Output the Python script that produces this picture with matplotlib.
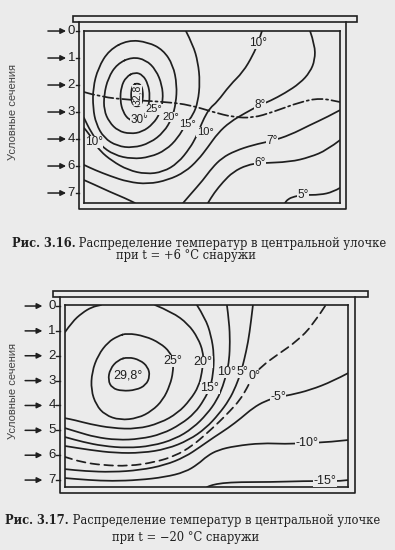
import matplotlib.pyplot as plt
import matplotlib.transforms as mtransforms
from matplotlib.path import Path
from matplotlib.patches import PathPatch, Rectangle

BG = '#ebebeb'
INK = '#1f1f1f'

# x: % of alley width (left wall = 0, right wall = 100)
# y: position of the conventional section (arrow index from the top)

# ---------- Рис. 3.16, outside +6 °C ----------
top_pos = [0, 1, 2, 3, 4, 5, 6]
top_sec_labels = ['0', '1', '2', '3', '4', '6', '7']
top_ylim = (6.37, 0)

top_328 = [(20.7, 1.93), (22.3, 2.00), (23.0, 2.22), (23.0, 2.52), (22.3, 2.74), (20.7, 2.81),
           (19.1, 2.74), (18.4, 2.52), (18.4, 2.22), (19.1, 2.00), (20.7, 1.93)]
top_30 = [(19.9, 1.52), (23.0, 1.63), (25.0, 1.96), (25.8, 2.41), (25.0, 2.85), (23.4, 3.19), (20.7, 3.37),
          (17.6, 3.30), (15.2, 3.00), (14.1, 2.56), (14.5, 2.07), (16.4, 1.70), (19.9, 1.52)]
top_25 = [(18.75, 0.96), (24.2, 1.07), (28.1, 1.44), (30.5, 2.00), (30.9, 2.56), (29.7, 3.04), (27.0, 3.44),
          (22.7, 3.74), (18.0, 3.81), (13.3, 3.70), (9.8, 3.37), (7.8, 2.93), (7.8, 2.37), (9.4, 1.74),
          (12.9, 1.22), (18.75, 0.96)]
top_20 = [(17.2, 0.33), (25.0, 0.41), (30.9, 0.70), (34.8, 1.26), (36.3, 2.00), (35.9, 2.67), (34.4, 3.22),
          (31.25, 3.74), (25.8, 4.15), (19.1, 4.33), (12.9, 4.26), (7.8, 3.96), (4.7, 3.44), (3.5, 2.85),
          (3.5, 2.11), (5.5, 1.37), (9.8, 0.70), (17.2, 0.33)]
top_15 = [(39.8, 0), (42.6, 0.52), (44.5, 1.15), (45.3, 1.89), (44.5, 2.63), (42.6, 3.11), (39.8, 3.44),
          (36.7, 3.96), (32.0, 4.41), (25.8, 4.67), (18.75, 4.74), (11.7, 4.59), (6.25, 4.22), (2.7, 3.74),
          (0, 3.22)]
top_10 = [(0, 3.59), (2.0, 3.81), (3.9, 4.11), (6.25, 4.44), (10.9, 4.81), (17.2, 5.15), (24.2, 5.30),
          (30.9, 5.22), (36.7, 4.89), (41.4, 4.33), (43.75, 3.93), (44.9, 3.67), (46.9, 3.22), (49.2, 2.85),
          (52.0, 2.63), (57.0, 2.00), (62.1, 1.52), (66.0, 0.89), (68.0, 0.44), (69.5, 0)]
top_8 = [(88.3, 0), (90.2, 0.52), (90.2, 1.07), (88.3, 1.52), (84.4, 1.93), (78.5, 2.30), (72.7, 2.59),
         (68.75, 2.74), (62.9, 3.04), (57.0, 3.37), (52.3, 3.78), (48.4, 4.30), (44.5, 4.78), (39.5, 5.22),
         (32.8, 5.52), (25.0, 5.67), (17.2, 5.59), (10.2, 5.37), (4.3, 5.15), (0, 4.96)]
top_7_left = [(0, 5.52), (4.3, 5.70), (10.2, 5.96), (16.0, 6.19), (19.9, 6.37)]
top_7_right = [(100, 2.93), (94.9, 3.19), (88.3, 3.48), (80.5, 3.85), (73.4, 4.07), (66.0, 4.22), (59.0, 4.44),
               (53.9, 4.70), (50.0, 5.07), (46.5, 5.52), (41.4, 6.07), (38.7, 6.37)]
top_6 = [(100, 4.04), (94.9, 4.41), (88.3, 4.67), (80.5, 4.85), (68.75, 4.89), (63.7, 4.96), (58.2, 5.22),
         (54.3, 5.59), (50.8, 6.00), (48.4, 6.37)]
top_5 = [(100, 5.81), (97.3, 5.96), (92.2, 6.07), (85.5, 6.07), (81.25, 6.15), (79.3, 6.26), (78.5, 6.37)]
top_dashdot = [(0, 2.26), (6.25, 2.44), (19.1, 2.56), (32.4, 2.63), (41.4, 2.74), (50.4, 3.00), (58.2, 3.19),
               (66.0, 3.22), (73.8, 3.00), (84.4, 2.63), (92.2, 2.48), (100, 2.63)]
top_marks = [('30°', 21.5, 3.30), ('10°', 3.9, 4.11), ('10°', 68.0, 0.44), ('8°', 68.75, 2.74),
             ('7°', 73.4, 4.07), ('6°', 68.75, 4.89), ('5°', 85.5, 6.07)]
# the four crowded labels right of the warm core
top_marks_row = [('25°', 27.3, 2.90), ('20°', 34.0, 3.18), ('15°', 40.6, 3.46), ('10°', 47.3, 3.74)]

# ---------- Рис. 3.17, outside -20 °C ----------
bot_pos = [0, 1, 2, 3, 4, 5, 6, 7]
bot_sec_labels = ['0', '1', '2', '3', '4', '5', '6', '7']
bot_ylim = (7.28, -0.04)

bot_298 = [(22.3, 2.05), (26.5, 2.17), (29.3, 2.45), (30.0, 2.82), (28.6, 3.18), (25.1, 3.38), (20.1, 3.42),
           (16.6, 3.30), (15.2, 2.98), (15.9, 2.53), (18.7, 2.17), (22.3, 2.05)]
bot_25 = [(21.9, 1.09), (28.3, 1.21), (33.6, 1.49), (37.1, 1.85), (38.2, 2.21), (38.2, 2.65), (37.1, 3.18),
          (34.6, 3.78), (30.7, 4.22), (25.8, 4.51), (19.4, 4.59), (14.1, 4.38), (11.0, 3.98), (9.2, 3.38),
          (9.5, 2.65), (11.7, 1.97), (15.2, 1.45), (18.7, 1.21), (21.9, 1.09)]
bot_20a = [(0, 1.05), (2.5, 0.64), (6.0, 0.28), (9.5, 0.04), (12.7, -0.04)]
bot_20b = [(31.8, -0.04), (37.8, 0.24), (43.5, 0.72), (47.0, 1.29), (48.8, 1.85), (48.8, 2.25), (48.4, 2.65),
           (47.3, 3.22), (44.2, 3.78), (39.9, 4.30), (33.6, 4.71), (25.4, 4.95), (16.6, 4.91), (8.8, 4.75),
           (3.5, 4.59), (0, 4.51)]
bot_15 = [(46.6, -0.04), (49.5, 0.48), (51.6, 1.17), (52.7, 1.97), (52.3, 2.78), (51.2, 3.30), (49.1, 3.78),
          (45.9, 4.30), (41.0, 4.75), (34.3, 5.15), (26.5, 5.35), (18.4, 5.39), (10.6, 5.27), (4.6, 5.07),
          (0, 4.91)]
bot_10 = [(57.2, -0.04), (58.0, 0.64), (58.3, 1.45), (58.0, 2.17), (57.2, 2.65), (55.8, 3.22), (53.7, 3.78),
          (50.2, 4.34), (45.2, 4.91), (38.9, 5.35), (30.7, 5.63), (21.9, 5.71), (13.4, 5.63), (6.4, 5.47),
          (0, 5.27)]
bot_5 = [(66.4, -0.04), (65.7, 0.64), (64.7, 1.45), (63.3, 2.17), (62.2, 2.65), (60.4, 3.22), (58.0, 3.78),
         (54.4, 4.34), (49.8, 4.91), (43.8, 5.39), (36.0, 5.75), (27.2, 5.91), (17.7, 5.91), (8.8, 5.79),
         (0, 5.63)]
bot_0 = [(91.9, 0.0), (87.6, 0.76), (82.0, 1.41), (74.9, 1.97), (69.6, 2.41), (66.4, 2.82), (64.3, 3.30),
         (61.8, 3.78), (58.3, 4.22), (54.4, 4.67), (49.8, 5.15), (44.9, 5.63), (38.9, 6.03), (31.8, 6.28),
         (22.6, 6.44), (13.1, 6.40), (6.0, 6.28), (0, 6.07)]
bot_m5 = [(100, 2.70), (94.7, 3.02), (86.6, 3.38), (79.5, 3.58), (75.3, 3.66), (70.7, 3.82), (66.4, 4.10),
          (62.2, 4.51), (57.6, 4.91), (52.7, 5.27), (47.7, 5.67), (42.4, 6.07), (35.3, 6.40), (26.5, 6.60),
          (16.6, 6.68), (7.1, 6.64), (0, 6.56)]
bot_m10 = [(100, 5.39), (93.6, 5.47), (85.5, 5.51), (77.7, 5.55), (69.6, 5.51), (60.1, 5.63), (54.1, 5.79),
           (50.2, 6.03), (47.0, 6.36), (42.4, 6.68), (35.3, 6.88), (26.1, 7.00), (16.6, 7.04), (8.5, 7.00),
           (0, 6.92)]
bot_m15 = [(100, 7.00), (97.2, 7.04), (91.9, 7.04), (84.8, 7.04), (72.4, 7.08), (61.8, 7.08), (55.5, 7.12),
           (51.9, 7.20), (50.2, 7.28)]
bot_marks = [('29,8°', 22.3, 2.78), ('25°', 38.2, 2.21), ('20°', 48.8, 2.25), ('15°', 51.2, 3.30),
             ('10°', 57.0, 2.65), ('5°', 62.8, 2.65), ('0°', 66.8, 2.82), ('-5°', 75.3, 3.66),
             ('-10°', 85.5, 5.51), ('-15°', 91.9, 7.04)]


def smooth_path(pts, closed=False):
    # quadratic B-spline through the read-off points
    if closed:
        pts = pts[:-1]
        n = len(pts)
        mids = [((pts[i][0] + pts[(i + 1) % n][0]) / 2, (pts[i][1] + pts[(i + 1) % n][1]) / 2)
                for i in range(n)]
        verts = [mids[-1]]
        codes = [Path.MOVETO]
        for i in range(n):
            verts += [pts[i], mids[i]]
            codes += [Path.CURVE3, Path.CURVE3]
        return Path(verts, codes)
    verts = [pts[0]]
    codes = [Path.MOVETO]
    for i in range(1, len(pts) - 1):
        mid = ((pts[i][0] + pts[i + 1][0]) / 2, (pts[i][1] + pts[i + 1][1]) / 2)
        verts += [pts[i], mid]
        codes += [Path.CURVE3, Path.CURVE3]
    verts.append(pts[-1])
    codes.append(Path.LINETO)
    return Path(verts, codes)


def iso(ax, pts, closed=False, ls='-'):
    ax.add_patch(PathPatch(smooth_path(pts, closed), fill=False, ec=INK, lw=1.25,
                           linestyle=ls, capstyle='round', joinstyle='round'))


def mark(ax, txt, x, y, size=9, rot=0):
    ax.text(x, y, txt, ha='center', va='center', fontsize=size, rotation=rot,
            family='Liberation Sans', color=INK, zorder=5,
            bbox=dict(boxstyle='square,pad=0.03', fc=BG, ec='none'))


def building(ax, pos, labels, ylim, roof, wall, tick, arrow, lab_x, ylab_x):
    ax.set_facecolor(BG)
    ax.set_xlim(0, 100)
    ax.set_ylim(*ylim)
    ax.set_xticks([])
    ax.set_yticks([])
    for s in ax.spines.values():
        s.set_color(INK)
        s.set_linewidth(1.2)
    # roof slab and outer walls
    ax.add_patch(Rectangle((roof[0], roof[2]), roof[1] - roof[0], roof[3] - roof[2],
                           transform=ax.transAxes, clip_on=False, fc=BG, ec=INK, lw=1.2))
    ax.plot([wall[0], wall[0], wall[1], wall[1]], [roof[2], wall[2], wall[2], roof[2]],
            transform=ax.transAxes, clip_on=False, color=INK, lw=1.2)
    trans = mtransforms.blended_transform_factory(ax.transAxes, ax.transData)
    for p, lab in zip(pos, labels):
        ax.plot(tick, [p, p], transform=trans, clip_on=False, color=INK, lw=1.0)
        ax.annotate('', xy=(arrow[1], p), xytext=(arrow[0], p), xycoords=trans, textcoords=trans,
                    annotation_clip=False,
                    arrowprops=dict(arrowstyle='-|>', color=INK, lw=1.1, mutation_scale=8,
                                    shrinkA=0, shrinkB=0))
        ax.text(lab_x, p, lab, transform=trans, ha='center', va='center', fontsize=9.5,
                family='Liberation Sans', color=INK)
    ax.text(ylab_x, 0.53, 'Условные сечения', transform=ax.transAxes, rotation=90,
            ha='center', va='center', fontsize=8, family='Liberation Sans', color='#444444')


fig = plt.figure(figsize=(3.95, 5.5), dpi=100, facecolor=BG)
ax1 = fig.add_axes([0.2127, 0.6309, 0.6481, 0.3127])
ax2 = fig.add_axes([0.1646, 0.1145, 0.7165, 0.3309])

building(ax1, top_pos, top_sec_labels, top_ylim,
         roof=(-0.043, 1.066, 1.052, 1.087), wall=(-0.0195, 1.023, -0.035),
         tick=(-0.031, -0.0195), arrow=(-0.141, -0.07), lab_x=-0.049, ylab_x=-0.277)
building(ax2, bot_pos, bot_sec_labels, bot_ylim,
         roof=(-0.042, 1.071, 1.044, 1.077), wall=(-0.0177, 1.025, -0.033),
         tick=(-0.032, -0.0177), arrow=(-0.141, -0.08), lab_x=-0.046, ylab_x=-0.184)

for pts in [top_328, top_30, top_25, top_20]:
    iso(ax1, pts, closed=True)
for pts in [top_15, top_10, top_8, top_7_left, top_7_right, top_6, top_5]:
    iso(ax1, pts)
iso(ax1, top_dashdot, ls=(0, (6, 2, 1.2, 2)))
for txt, x, y in top_marks:
    mark(ax1, txt, x, y, size=8.5)
for txt, x, y in top_marks_row:
    mark(ax1, txt, x, y, size=8)
mark(ax1, '32,8', 20.7, 2.37, size=7.5, rot=90)

for pts in [bot_298, bot_25]:
    iso(ax2, pts, closed=True)
for pts in [bot_20a, bot_20b, bot_15, bot_10, bot_5, bot_m5, bot_m10, bot_m15]:
    iso(ax2, pts)
iso(ax2, bot_0, ls=(0, (5, 3)))
for txt, x, y in bot_marks:
    mark(ax2, txt, x, y)


def caption(x, y1, y2, num, rest, line2):
    t = fig.text(x, y1, num, ha='left', va='center', fontsize=8.3, family='DejaVu Serif',
                 weight='bold', color=INK)
    ax1.annotate(rest, xy=(1, 0), xycoords=t, ha='left', va='bottom', fontsize=8.3,
                 family='DejaVu Serif', color=INK)
    fig.text(0.47, y2, line2, ha='center', va='center', fontsize=8.3, family='DejaVu Serif', color=INK)


caption(0.030, 0.558, 0.536, 'Рис. 3.16.', ' Распределение температур в центральной улочке',
        'при t = +6 °С снаружи')
caption(0.013, 0.0545, 0.0236, 'Рис. 3.17.', ' Распределение температур в центральной улочке',
        'при t = −20 °С снаружи')

fig.savefig('out.png', dpi=100, facecolor=BG)
